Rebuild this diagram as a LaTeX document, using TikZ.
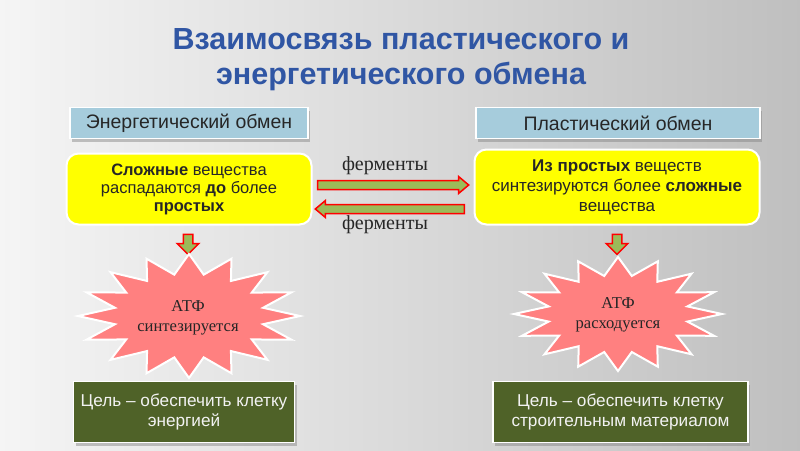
\documentclass[tikz,border=0pt]{standalone}
\usepackage{fontspec}
\setmainfont{Liberation Sans}
\newfontfamily\serifrm{Liberation Serif}
\usetikzlibrary{shapes.arrows,shadows}
\definecolor{titleblue}{RGB}{48,86,164}
\definecolor{headblue}{RGB}{166,204,220}
\definecolor{ylw}{RGB}{255,255,0}
\definecolor{olivebox}{RGB}{79,98,40}
\definecolor{arrgreen}{RGB}{155,187,89}
\definecolor{starpink}{RGB}{255,128,128}
\tikzset{
  headbox/.style={draw=white, line width=1.5pt, fill=headblue, minimum height=31pt,
    drop shadow={shadow xshift=2pt, shadow yshift=-3pt, opacity=0.45},
    font=\fontsize{19.5}{22}\selectfont, text=black!85},
  ybox/.style={draw=white, line width=2pt, fill=ylw, rounded corners=12pt, align=center,
    text=black!85},
  gbox/.style={draw=white, line width=1.5pt, fill=olivebox, align=center, minimum height=61pt,
    drop shadow={shadow xshift=2pt, shadow yshift=-3pt, opacity=0.45},
    font=\fontsize{17.2}{20}\selectfont, text=white!95!black},
  harrow/.style={single arrow, draw=red, line width=1.5pt, fill=arrgreen, inner sep=0pt,
    text width=1pt, text height=7.5pt, text depth=0pt,
    single arrow head extend=4pt, single arrow tip angle=80},
  varrow/.style={single arrow, draw=red, line width=1.5pt, fill=arrgreen, inner sep=0pt,
    text width=8pt, text height=8pt, text depth=0pt,
    single arrow head extend=6pt, single arrow tip angle=90, shape border rotate=270, minimum height=20pt},
  enz/.style={font=\serifrm\fontsize{20}{22}\selectfont, text=black!85, anchor=base},
  startext/.style={font=\serifrm\fontsize{16.6}{20}\selectfont, align=center, text=black!85},
  starshape/.style={fill=starpink, draw=white, line width=2pt, line join=miter}
}
\begin{document}
\begin{tikzpicture}[x=1pt,y=-1pt]
\shade[left color=gray!8, right color=gray!50] (0,0) rectangle (800,450);
\useasboundingbox (0,0) rectangle (800,450);

% title
\node[font=\bfseries\fontsize{30.5}{35}\selectfont, text=titleblue, align=center] (title) at (401,60)
  {Взаимосвязь пластического и\\энергетического обмена};

% headers
\node[headbox, minimum width=238pt] (hl) at (189,123) {Энергетический обмен};
\node[headbox, minimum width=284pt] (hr) at (618,123) {Пластический обмен};

% yellow boxes
\node[ybox, minimum width=245pt, minimum height=71pt, font=\fontsize{16.5}{18}\selectfont] (yl) at (189,189)
  {\textbf{Сложные} вещества\\распадаются \textbf{до} более\\\textbf{простых}};
\node[ybox, minimum width=285pt, minimum height=75pt, font=\fontsize{17}{20}\selectfont] (yr) at (617,187)
  {\textbf{Из простых} веществ\\синтезируются более \textbf{сложные}\\вещества};

% horizontal arrows
\node[harrow, minimum height=151pt] (ar) at (390.5,185) {};
\node[harrow, minimum height=149pt, shape border rotate=180] (al) at (392.5,209) {};
\node[enz] (e1) at (385,170) {ферменты};
\node[enz] (e2) at (385,229) {ферменты};

% down arrows
\node[varrow] (dl) at (188,242) {};
\node[varrow] (dr) at (617,242) {};

% stars
\begin{scope}[shift={(189,316)}]
\filldraw[starshape] (0:111 and 62)
  \foreach \i [evaluate=\i as \r using {mod(\i,2)==0 ? 1 : 0.68}] in {1,...,31} { -- ({\i*11.25}:{\r*111} and {\r*62}) } -- cycle;
\end{scope}
\begin{scope}[shift={(618,314)}]
\filldraw[starshape] (0:104 and 57)
  \foreach \i [evaluate=\i as \r using {mod(\i,2)==0 ? 1 : 0.68}] in {1,...,31} { -- ({\i*11.25}:{\r*104} and {\r*57}) } -- cycle;
\end{scope}
\node[startext] (sl) at (188,318) {АТФ\\синтезируется};
\node[startext] (sr) at (618,315) {АТФ\\расходуется};

% bottom boxes
\node[gbox, minimum width=221pt] (bl) at (184,412) {Цель – обеспечить клетку\\энергией};
\node[gbox, minimum width=255pt] (br) at (620.5,412) {Цель – обеспечить клетку\\строительным материалом};
\end{tikzpicture}
\end{document}
